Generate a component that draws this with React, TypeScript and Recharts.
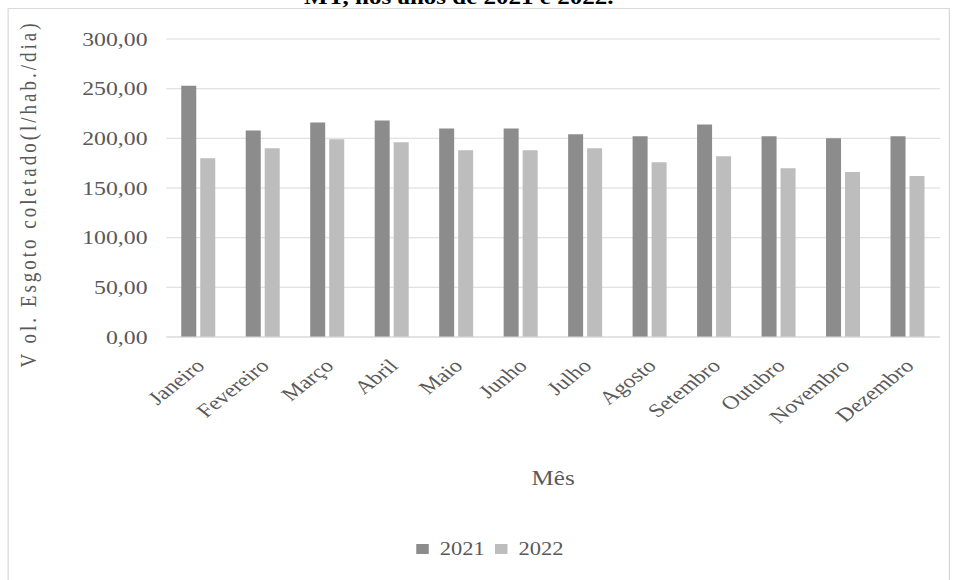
import React from "react";
import {
  BarChart,
  Bar,
  XAxis,
  YAxis,
  CartesianGrid,
  Legend,
  Label,
} from "recharts";

// Volume de esgoto coletado por habitante, por mês
const meses = [
  "Janeiro",
  "Fevereiro",
  "Março",
  "Abril",
  "Maio",
  "Junho",
  "Julho",
  "Agosto",
  "Setembro",
  "Outubro",
  "Novembro",
  "Dezembro",
];
const vol2021 = [253, 208, 216, 218, 210, 210, 204, 202, 214, 202, 200, 202];
const vol2022 = [180, 190, 199, 196, 188, 188, 190, 176, 182, 170, 166, 162];
const yTicks = [0, 50, 100, 150, 200, 250, 300];

const data = meses.map((mes, i) => ({
  mes,
  v2021: vol2021[i],
  v2022: vol2022[i],
}));

const FONT = "'Liberation Serif', 'Times New Roman', serif";
const TEXT = "#595959";
const COR_2021 = "#8c8c8c";
const COR_2022 = "#bdbdbd";
const GRADE = "#d9d9d9";
// o gráfico original vem esticado na horizontal
const ESTICA = 1.25;

const formatBR = (v: number) => v.toFixed(2).replace(".", ",");

function MesTick(props: any) {
  const { x, y, payload } = props;
  return (
    <g transform={`translate(${x + 6},${y + 22})`}>
      <text
        transform="rotate(-45)"
        textAnchor="end"
        fontFamily={FONT}
        fontSize={19}
        fill={TEXT}
      >
        {payload.value}
      </text>
    </g>
  );
}

function YLabel(props: any) {
  const { viewBox } = props;
  const cx = viewBox.x + 16;
  const cy = viewBox.y + viewBox.height / 2 + 6;
  return (
    <text
      x={cx}
      y={cy}
      transform={`rotate(-90, ${cx}, ${cy})`}
      textAnchor="middle"
      dominantBaseline="central"
      fontFamily={FONT}
      fontSize={19}
      letterSpacing={3}
      fill={TEXT}
    >
      V ol. Esgoto coletado(l/hab./dia)
    </text>
  );
}

function XLabel(props: any) {
  const { viewBox } = props;
  return (
    <text
      x={viewBox.x + viewBox.width / 2}
      y={viewBox.y + 148}
      textAnchor="middle"
      fontFamily={FONT}
      fontSize={20}
      fill={TEXT}
    >
      Mês
    </text>
  );
}

function Legenda() {
  const itens = [
    { nome: "2021", cor: COR_2021 },
    { nome: "2022", cor: COR_2022 },
  ];
  return (
    <div
      style={{
        display: "flex",
        justifyContent: "center",
        alignItems: "center",
        height: 24,
        paddingLeft: 25,
        fontFamily: FONT,
        fontSize: 18,
        color: TEXT,
      }}
    >
      {itens.map((it) => (
        <span
          key={it.nome}
          style={{ display: "flex", alignItems: "center", marginRight: 8 }}
        >
          <span
            style={{
              width: 10,
              height: 10,
              background: it.cor,
              marginRight: 9,
              display: "inline-block",
            }}
          />
          {it.nome}
        </span>
      ))}
    </div>
  );
}

export default function App() {
  return (
    <div
      style={{
        position: "fixed",
        left: 0,
        top: 0,
        width: 959,
        height: 580,
        overflow: "hidden",
        background: "#fff",
      }}
    >
      <div
        style={{
          position: "absolute",
          left: 0,
          top: 0,
          width: 959 / ESTICA,
          height: 580,
          transform: `scaleX(${ESTICA})`,
          transformOrigin: "0 0",
        }}
      >
        <div
          style={{
            position: "absolute",
            left: 0,
            top: -13,
            width: 734,
            textAlign: "center",
            fontFamily: FONT,
            fontSize: 20,
            lineHeight: "20px",
            fontWeight: "bold",
            color: "#000",
          }}
        >
          MT, nos anos de 2021 e 2022.
        </div>
        <div
          style={{
            position: "absolute",
            left: 6.4,
            top: 8,
            width: 752,
            height: 590,
            border: `1px solid ${GRADE}`,
            background: "#fff",
          }}
        >
          <BarChart
            width={752}
            height={571}
            data={data}
            margin={{ top: 30, right: 7, left: 0, bottom: 19 }}
            barGap={3.2}
            barSize={12}
          >
            <CartesianGrid vertical={false} stroke={GRADE} strokeWidth={1} />
            <XAxis
              dataKey="mes"
              interval={0}
              height={200}
              tickLine={false}
              axisLine={{ stroke: GRADE }}
              tick={(p: any) => <MesTick {...p} />}
            >
              <Label content={(p: any) => <XLabel {...p} />} />
            </XAxis>
            <YAxis
              width={126}
              domain={[0, 300]}
              ticks={yTicks}
              tickFormatter={formatBR}
              tickLine={false}
              axisLine={false}
              tickMargin={9}
              tick={{ fontFamily: FONT, fontSize: 19, fill: TEXT }}
            >
              <Label content={(p: any) => <YLabel {...p} />} />
            </YAxis>
            <Legend
              verticalAlign="bottom"
              wrapperStyle={{ left: 0, width: 752 }}
              content={() => <Legenda />}
            />
            <Bar
              dataKey="v2021"
              name="2021"
              fill={COR_2021}
              isAnimationActive={false}
            />
            <Bar
              dataKey="v2022"
              name="2022"
              fill={COR_2022}
              isAnimationActive={false}
            />
          </BarChart>
        </div>
      </div>
    </div>
  );
}
